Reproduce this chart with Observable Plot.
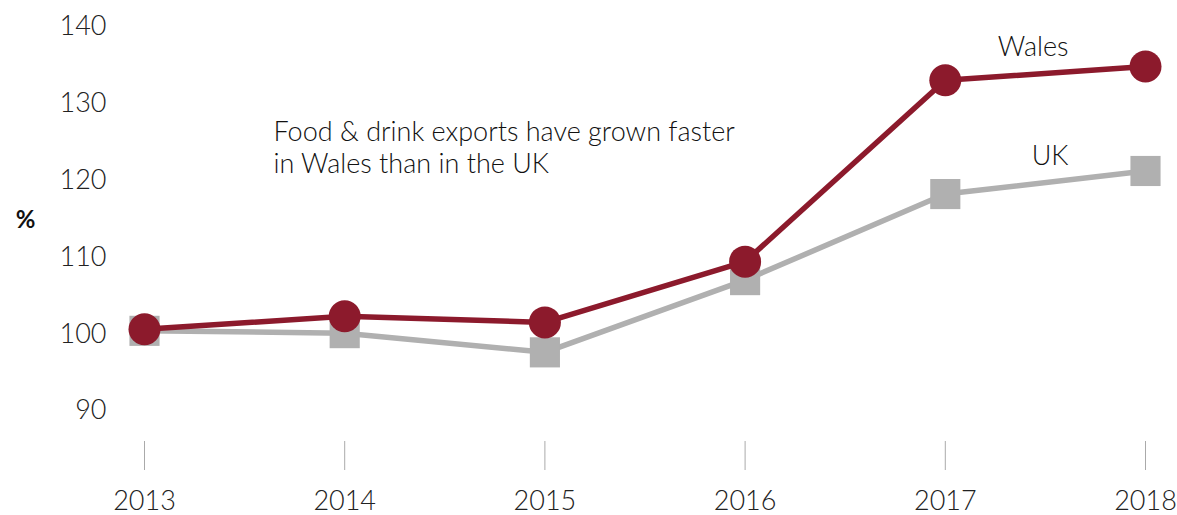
<!DOCTYPE html>
<html>
<head>
<meta charset="utf-8">
<script src="https://cdn.jsdelivr.net/npm/d3@7"></script>
<script src="https://cdn.jsdelivr.net/npm/@observablehq/plot@0.6"></script>
<style>
  html, body { margin: 0; padding: 0; background: #fff; }
  #chart svg { display: block; }
</style>
</head>
<body>
<div id="chart"></div>
<script>
const years = [2013, 2014, 2015, 2016, 2017, 2018];
const wales = [100.6, 102.3, 101.5, 109.4, 133.0, 134.8];
const uk = [100.4, 100.1, 97.6, 107.0, 118.2, 121.2];
const yTicks = [90, 100, 110, 120, 130, 140];
const seriesNames = ["Wales", "UK"];
const annotation = "Food & drink exports have grown faster\nin Wales than in the UK";
const unitLabel = "%";

const walesData = years.map((year, i) => ({year, value: wales[i]}));
const ukData = years.map((year, i) => ({year, value: uk[i]}));

const RED = "#8c1a2c";
const GREY = "#b0b0b0";
const FONT = "Lato, 'Open Sans', sans-serif";

const chart = Plot.plot({
  width: 1177,
  height: 515,
  marginLeft: 144,
  marginRight: 32,
  marginTop: 26,
  marginBottom: 74,
  style: {fontFamily: FONT, fontWeight: 300, color: "#222", background: "#fff"},
  x: {domain: [2013, 2018]},
  y: {domain: [86, 140]},
  marks: [
    Plot.axisY(yTicks, {tickSize: 0, tickPadding: 38, fontSize: 27, label: null, fill: "#222"}),
    Plot.axisX(years, {tickSize: 29, tickPadding: 20, fontSize: 27, label: null, tickFormat: d => String(d), stroke: "#aaa", fill: "#222"}),
    Plot.line(ukData, {x: "year", y: "value", stroke: GREY, strokeWidth: 5.5}),
    Plot.dot(ukData, {x: "year", y: "value", symbol: "square", r: 17, fill: GREY}),
    Plot.line(walesData, {x: "year", y: "value", stroke: RED, strokeWidth: 5.5}),
    Plot.dot(walesData, {x: "year", y: "value", r: 16, fill: RED}),
    Plot.text([walesData[walesData.length - 1]], {x: "year", y: "value", text: () => seriesNames[0], dx: -77, dy: -19, textAnchor: "end", fontSize: 27, fill: "#111"}),
    Plot.text([ukData[ukData.length - 1]], {x: "year", y: "value", text: () => seriesNames[1], dx: -77, dy: -15, textAnchor: "end", fontSize: 27, fill: "#111"}),
    Plot.text([annotation], {frameAnchor: "top-left", dx: 129, dy: 120, textAnchor: "start", lineAnchor: "middle", lineHeight: 1.2, fontSize: 27, fill: "#111"}),
    Plot.text([unitLabel], {frameAnchor: "top-left", dx: -119, dy: 194, lineAnchor: "middle", textAnchor: "middle", fontSize: 24, fontWeight: 700, fill: "#111"})
  ]
});
document.getElementById("chart").appendChild(chart);
</script>
</body>
</html>
